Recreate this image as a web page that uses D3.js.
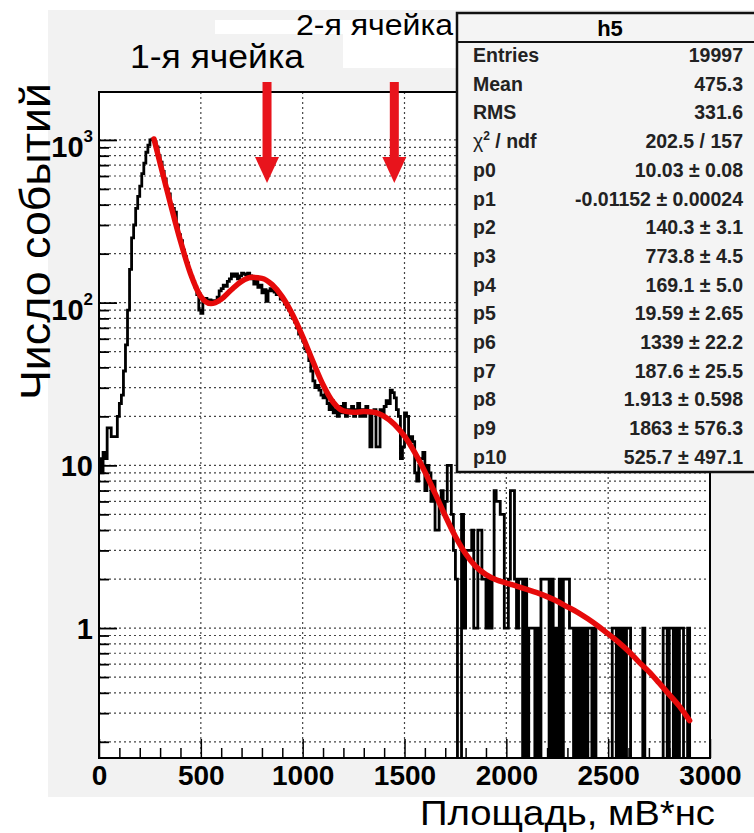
<!DOCTYPE html>
<html>
<head>
<meta charset="utf-8">
<script src="https://cdn.jsdelivr.net/npm/d3@7"></script>
<style>
    body { margin: 0; background: #fff; }
    text { font-family: "Liberation Sans", Arial, Helvetica, sans-serif; }
</style>
</head>
<body>
<div id="chart"></div>
<script>

// histogram h5: bins of 10 mV*ns starting at 0 (one row = 100 mV*ns)
var binWidth = 10;
var counts = [
    11, 9, 12, 11, 17, 17, 15, 15, 15, 20,
    24, 27, 38, 55, 90, 160, 250, 300, 380, 450,
    520, 620, 720, 840, 930, 1000, 1010, 975, 905, 800,
    730, 640, 575, 500, 465, 400, 380, 360, 300, 262,
    240, 210, 192, 175, 158, 145, 135, 125, 112, 90,
    86, 102, 106, 100, 104, 101, 103, 100, 108, 118,
    122, 128, 126, 135, 140, 150, 145, 150, 140, 146,
    152, 150, 148, 152, 146, 140, 130, 135, 124, 128,
    115, 120, 102, 118, 122, 118, 116, 112, 114, 105,
    104, 98, 94, 90, 84, 80, 76, 70, 64, 62,
    58, 52, 50, 44, 38, 33, 30, 31, 29, 27,
    26, 28, 24, 22, 25, 21, 22, 20, 23, 21,
    24, 20, 22, 21, 23, 20, 22, 24, 20, 22,
    20, 23, 21, 13, 21, 22, 13, 13, 22, 20,
    23, 25, 24, 29, 28, 26, 22, 20, 11, 13,
    21, 20, 14, 15, 14, 9, 8, 10, 11, 12,
    7, 10, 9, 6, 8, 4, 4, 6, 7, 5,
    6, 10, 10, 5, 3, 2, 0, 0, 5, 1,
    3, 3, 3, 4, 1, 1, 4, 4, 2, 2,
    1, 2, 1, 2, 7, 6, 6, 5, 5, 1,
    1, 2, 7, 7, 2, 1, 2, 2, 0, 2,
    0, 1, 1, 1, 0, 1, 0, 2, 2, 2,
    2, 0, 2, 0, 1, 0, 2, 0, 2, 2,
    2, 1, 1, 0, 1, 0, 1, 0, 1, 0,
    1, 1, 0, 1, 0, 0, 0, 0, 0, 0,
    0, 0, 1, 1, 0, 1, 0, 1, 0, 1,
    1, 0, 0, 0, 0, 0, 0, 1, 0, 0,
    0, 0, 0, 0, 0, 0, 0, 1, 1, 0,
    1, 1, 0, 1, 0, 1, 1, 0, 0, 1,
    0, 0, 0, 0, 0, 0, 0, 0, 0, 0
];

// fit curve (red)
var fitX = [270, 300, 350, 400, 450, 500, 550, 600, 650, 700,
            750, 800, 850, 900, 950, 1000, 1050, 1100, 1150, 1200,
            1250, 1300, 1350, 1400, 1450, 1500, 1550, 1600, 1650, 1700,
            1750, 1800, 1850, 1900, 1950, 2000, 2050, 2100, 2150, 2200,
            2250, 2300, 2350, 2400, 2450, 2500, 2550, 2600, 2650, 2700,
            2750, 2800, 2850, 2900];
var fitY = [1014, 719, 409, 239, 150, 109, 98.7, 105, 120, 135,
            143, 141, 129, 108.5, 84.6, 61.9, 43.6, 31.3, 24.4, 21.6,
            21.2, 21.4, 21.2, 20.0, 17.9, 15.1, 12.0, 9.13, 6.72, 4.90,
            3.65, 2.86, 2.39, 2.13, 1.98, 1.89, 1.81, 1.73, 1.65, 1.56,
            1.46, 1.35, 1.25, 1.14, 1.03, 0.92, 0.82, 0.72, 0.62, 0.54,
            0.46, 0.39, 0.33, 0.27];

var xMajor = [0, 500, 1000, 1500, 2000, 2500, 3000];
var yMajor = [1, 10, 100, 1000];
var yMajorBase = ["1", "10", "10", "10"];
var yMajorExp = ["", "", "2", "3"];

// red arrows, x position of the cells
var arrowX = [825, 1450];
var cellLabels = ["1-я ячейка", "2-я ячейка"];

var statNames = ["Entries", "Mean", "RMS", "chi", "p0", "p1", "p2", "p3", "p4",
                 "p5", "p6", "p7", "p8", "p9", "p10"];
var statValues = ["19997", "475.3", "331.6", "202.5 / 157", "10.03 \u00b1 0.08",
                  "-0.01152 \u00b1 0.00024", "140.3 \u00b1 3.1", "773.8 \u00b1 4.5",
                  "169.1 \u00b1 5.0", "19.59 \u00b1 2.65", "1339 \u00b1 22.2",
                  "187.6 \u00b1 25.5", "1.913 \u00b1 0.598", "1863 \u00b1 576.3",
                  "525.7 \u00b1 497.1"];


var W = 754, H = 833;
var frame = { left: 99, top: 92, right: 710, bottom: 758 };

var svg = d3.select("#chart").append("svg")
    .attr("width", W)
    .attr("height", H);

svg.append("rect").attr("width", W).attr("height", H).attr("fill", "#fff");

// grey ROOT canvas
svg.append("rect")
    .attr("x", 48).attr("y", 10)
    .attr("width", W - 48).attr("height", 787)
    .attr("fill", "#f2f2f2");

// white patch behind the second label (pasted)
svg.append("rect").attr("x", 215).attr("y", 20).attr("width", 245).attr("height", 14).attr("fill", "#fff");
svg.append("rect").attr("x", 343).attr("y", 20).attr("width", 117).attr("height", 48).attr("fill", "#fff");

var x = d3.scaleLinear()
    .domain([0, 3000])
    .range([frame.left, frame.right]);

var y = d3.scaleLog()
    .domain([0.159, 1970])
    .range([frame.bottom, frame.top]);

svg.append("rect")
    .attr("x", frame.left).attr("y", frame.top)
    .attr("width", frame.right - frame.left)
    .attr("height", frame.bottom - frame.top)
    .attr("fill", "#fff");

svg.append("clipPath").attr("id", "clip")
    .append("rect")
    .attr("x", frame.left).attr("y", frame.top)
    .attr("width", frame.right - frame.left)
    .attr("height", frame.bottom - frame.top);

// log ticks: majors and 2..9 minors
var yMinor = [];
[0.1, 1, 10, 100, 1000].forEach(function(d) {
    for (var k = 2; k <= 9; k++) {
        var v = d * k;
        if (v >= y.domain()[0] && v <= y.domain()[1]) yMinor.push(v);
    }
});
var xMinor = d3.range(0, 3001, 100).filter(function(d) { return d % 500 !== 0; });

// dotted grid
var grid = svg.append("g").attr("clip-path", "url(#clip)");
grid.selectAll(".gy")
    .data(yMajor.concat(yMinor))
    .enter().append("line")
    .attr("class", "gy")
    .attr("x1", frame.left).attr("x2", frame.right)
    .attr("y1", function(d) { return y(d); })
    .attr("y2", function(d) { return y(d); })
    .attr("stroke", "#444")
    .attr("stroke-width", 1.2)
    .attr("stroke-dasharray", "2,3");
grid.selectAll(".gx")
    .data(xMajor.slice(1, -1))
    .enter().append("line")
    .attr("class", "gx")
    .attr("y1", frame.top).attr("y2", frame.bottom)
    .attr("x1", function(d) { return x(d); })
    .attr("x2", function(d) { return x(d); })
    .attr("stroke", "#444")
    .attr("stroke-width", 1.2)
    .attr("stroke-dasharray", "2,3");

// histogram as a step line
var histPts = counts.map(function(c, i) { return [i * binWidth, c]; });
histPts.push([counts.length * binWidth, counts[counts.length - 1]]);

var histLine = d3.line()
    .x(function(d) { return x(d[0]); })
    .y(function(d) { return d[1] > 0 ? y(d[1]) : frame.bottom + 4; })
    .curve(d3.curveStepAfter);

var plot = svg.append("g").attr("clip-path", "url(#clip)");

plot.append("path")
    .datum(histPts)
    .attr("d", histLine)
    .attr("fill", "none")
    .attr("stroke", "#000")
    .attr("stroke-width", 2.8);

var fitLine = d3.line()
    .x(function(d) { return x(d[0]); })
    .y(function(d) { return y(d[1]); })
    .curve(d3.curveMonotoneX);

plot.append("path")
    .datum(fitX.map(function(d, i) { return [d, fitY[i]]; }))
    .attr("d", fitLine)
    .attr("fill", "none")
    .attr("stroke", "#e60a0a")
    .attr("stroke-width", 5.5)
    .attr("stroke-linecap", "round");

// axes, ticks pointing inside
svg.append("g")
    .attr("transform", "translate(0," + frame.bottom + ")")
    .call(d3.axisBottom(x).tickValues(xMinor).tickSize(-10).tickFormat(""))
    .call(function(g) { g.select(".domain").remove(); })
    .selectAll("line").attr("stroke-width", 1.5);

var xAxis = svg.append("g")
    .attr("transform", "translate(0," + frame.bottom + ")")
    .call(d3.axisBottom(x).tickValues(xMajor).tickSize(-19).tickPadding(6).tickFormat(d3.format("d")));
xAxis.select(".domain").remove();
xAxis.selectAll("line").attr("stroke-width", 1.5);
xAxis.selectAll("text")
    .attr("font-size", 28)
    .attr("font-weight", "bold")
    .attr("fill", "#000")
    .attr("dy", "0.75em");

var yAxisG = svg.append("g")
    .attr("transform", "translate(" + frame.left + ",0)");
yAxisG.append("g")
    .call(d3.axisLeft(y).tickValues(yMinor).tickSize(-10).tickFormat(""))
    .call(function(g) { g.select(".domain").remove(); })
    .selectAll("line").attr("stroke-width", 1.8);
yAxisG.append("g")
    .call(d3.axisLeft(y).tickValues(yMajor).tickSize(-18).tickFormat(""))
    .call(function(g) { g.select(".domain").remove(); })
    .selectAll("line").attr("stroke-width", 1.8);

// y labels with superscripts
yMajor.forEach(function(v, i) {
    var t = svg.append("text")
        .attr("x", 93)
        .attr("y", y(v) + (yMajorExp[i] ? 17 : 11))
        .attr("text-anchor", "end")
        .attr("font-size", 29)
        .attr("font-weight", "bold");
    t.append("tspan").text(yMajorBase[i]);
    if (yMajorExp[i]) {
        t.append("tspan")
            .attr("font-size", 17)
            .attr("dy", -15)
            .text(yMajorExp[i]);
    }
});

// frame
svg.append("rect")
    .attr("x", frame.left).attr("y", frame.top)
    .attr("width", frame.right - frame.left)
    .attr("height", frame.bottom - frame.top)
    .attr("fill", "none")
    .attr("stroke", "#000")
    .attr("stroke-width", 2);

// axis titles
svg.append("text")
    .attr("transform", "translate(50,400) rotate(-90)")
    .attr("font-size", 43)
    .attr("textLength", 317)
    .attr("lengthAdjust", "spacingAndGlyphs")
    .text("Число событий");

svg.append("text")
    .attr("x", 715)
    .attr("y", 825)
    .attr("text-anchor", "end")
    .attr("font-size", 35)
    .attr("textLength", 295)
    .attr("lengthAdjust", "spacingAndGlyphs")
    .text("Площадь, мВ*нс");

// cell labels and arrows
svg.append("text")
    .attr("x", 130).attr("y", 68)
    .attr("font-size", 34)
    .attr("textLength", 174)
    .attr("lengthAdjust", "spacingAndGlyphs")
    .text(cellLabels[0]);
svg.append("text")
    .attr("x", 296).attr("y", 35)
    .attr("font-size", 30)
    .attr("textLength", 157)
    .attr("lengthAdjust", "spacingAndGlyphs")
    .text(cellLabels[1]);

arrowX.forEach(function(a) {
    var ax = x(a);
    svg.append("rect")
        .attr("x", ax - 4.5).attr("y", 82)
        .attr("width", 9).attr("height", 78)
        .attr("fill", "#e8141c");
    svg.append("path")
        .attr("d", "M" + (ax - 12) + ",157 L" + (ax + 12) + ",157 L" + ax + ",183 Z")
        .attr("fill", "#e8141c");
});

// statistics box
var box = { x: 457, y: 13, w: 310, h: 459 };
svg.append("rect")
    .attr("x", box.x).attr("y", box.y)
    .attr("width", box.w).attr("height", box.h)
    .attr("fill", "#f4f4f4")
    .attr("stroke", "#111")
    .attr("stroke-width", 2.5);
svg.append("line")
    .attr("x1", box.x).attr("x2", box.x + box.w)
    .attr("y1", 42).attr("y2", 42)
    .attr("stroke", "#111")
    .attr("stroke-width", 2);
svg.append("text")
    .attr("x", 610).attr("y", 36)
    .attr("text-anchor", "middle")
    .attr("font-size", 22)
    .attr("font-weight", "bold")
    .text("h5");

var rowH = 28.7;
statNames.forEach(function(name, i) {
    var ty = 62 + i * rowH;
    var t = svg.append("text")
        .attr("x", 473).attr("y", ty)
        .attr("font-size", 19.5)
        .attr("font-weight", "bold")
        .attr("fill", "#222");
    if (name === "chi") {
        t.append("tspan").attr("font-weight", "normal").text("\u03c7");
        t.append("tspan").attr("font-size", 12).attr("dy", -8).text("2");
        t.append("tspan").attr("dy", 8).text(" / ndf");
    } else {
        t.text(name);
    }
    svg.append("text")
        .attr("x", 743).attr("y", ty)
        .attr("text-anchor", "end")
        .attr("font-size", 19.5)
        .attr("font-weight", "bold")
        .attr("fill", "#222")
        .text(statValues[i]);
});

</script>
</body>
</html>
